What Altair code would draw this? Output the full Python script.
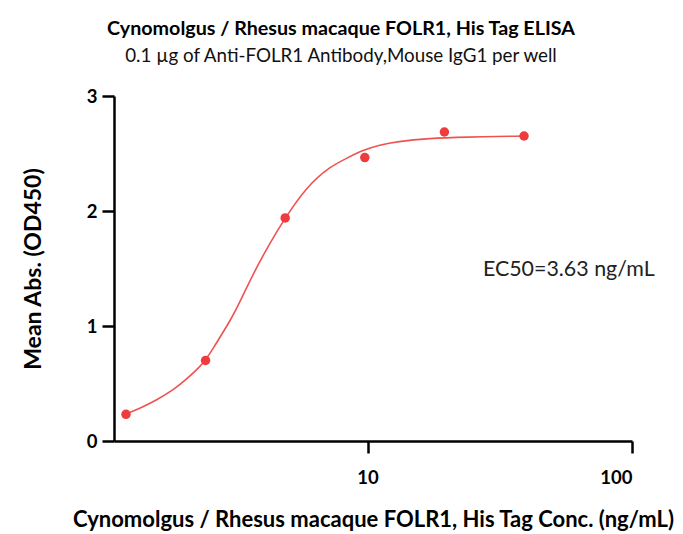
import altair as alt
import pandas as pd

# Measured points (concentration ng/mL, mean OD450)
conc = [1.221, 2.441, 4.883, 9.766, 19.53, 39.06]
od = [0.232, 0.700, 1.940, 2.465, 2.687, 2.652]

# Fitted curve
curve_x = [1.21, 1.379, 1.595, 1.842, 2.07, 2.29, 2.43, 2.61, 2.85, 3.06, 3.32,
           3.70, 4.27, 4.87, 5.88, 7.20, 8.33, 9.62, 11.13, 12.87, 17.20, 22.98, 39.3]
curve_y = [0.232, 0.284, 0.357, 0.443, 0.537, 0.632, 0.697, 0.806, 0.950, 1.067, 1.226,
           1.458, 1.719, 1.937, 2.211, 2.385, 2.458, 2.530, 2.574, 2.603, 2.632, 2.643, 2.652]

x_ticks = [10, 100]
y_ticks = [0, 1, 2, 3]

ann_text = ["EC50=3.63 ng/mL"]
ann_x = [27.3]
ann_y = [1.49]

FONT = "Lato"
RED = "#ef3b3e"

pts = pd.DataFrame({"x": conc, "y": od})
crv = pd.DataFrame({"x": curve_x, "y": curve_y})
ann = pd.DataFrame({"x": ann_x, "y": ann_y, "t": ann_text})

xscale = alt.Scale(type="log", domain=[1.1, 100], nice=False)
yscale = alt.Scale(domain=[0, 3], nice=False)

xaxis = alt.Axis(values=x_ticks, format="d", title="Cynomolgus / Rhesus macaque FOLR1, His Tag Conc. (ng/mL)",
                 titleFontSize=22, titleFont=FONT, titleFontWeight="bold", titlePadding=23,
                 labelFont=FONT, labelFontSize=18.5, labelFontWeight="bold", labelPadding=15,
                 tickSize=12, tickWidth=2.5, domainWidth=2.5, domainColor="black", tickColor="black",
                 labelColor="black", titleColor="black", grid=False)
yaxis = alt.Axis(values=y_ticks, format="d", title="Mean Abs. (OD450)",
                 titleFontSize=23, titleFont=FONT, titleFontWeight="bold", titlePadding=41,
                 labelFont=FONT, labelFontSize=18.5, labelFontWeight="bold", labelPadding=5,
                 tickSize=12, tickWidth=2.5, domainWidth=2.5, domainColor="black", tickColor="black",
                 labelColor="black", titleColor="black", grid=False)

line = alt.Chart(crv).mark_line(color="#f05252", strokeWidth=1.6, interpolate="basis").encode(
    x=alt.X("x:Q", scale=xscale, axis=xaxis),
    y=alt.Y("y:Q", scale=yscale, axis=yaxis),
)
points = alt.Chart(pts).mark_circle(color=RED, size=90, opacity=1).encode(
    x=alt.X("x:Q", scale=xscale),
    y=alt.Y("y:Q", scale=yscale),
)
text = alt.Chart(ann).mark_text(align="left", baseline="middle", font=FONT, fontSize=21.4, color="#222").encode(
    x=alt.X("x:Q", scale=xscale),
    y=alt.Y("y:Q", scale=yscale),
    text="t:N",
)

chart = alt.layer(line, points, text).properties(
    width=518, height=345,
    padding={"left": 106, "top": 88, "right": 43, "bottom": 95},
    autosize=alt.AutoSizeParams(type="none"),
    title=alt.Title(
        text="Cynomolgus / Rhesus macaque FOLR1, His Tag ELISA",
        subtitle="0.1 µg of Anti-FOLR1 Antibody,Mouse IgG1 per well",
        font=FONT, fontSize=19.7, fontWeight="bold", color="black",
        subtitleFont=FONT, subtitleFontSize=18.8, subtitleColor="#111", subtitlePadding=9,
        anchor="middle", dx=-32, offset=21,
    ),
).configure_view(stroke=None)

chart.save("out.html", embed_options={"renderer": "svg", "actions": False})
